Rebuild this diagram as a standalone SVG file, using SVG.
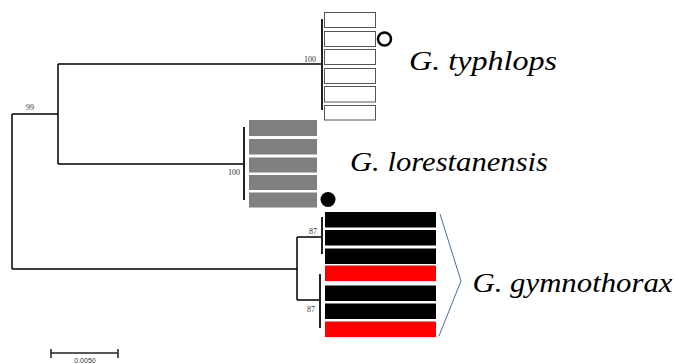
<svg xmlns="http://www.w3.org/2000/svg" width="675" height="364" viewBox="0 0 675 364">
<style>
.br{stroke:#000;stroke-width:1.5;fill:none}
.bar{stroke:#222;stroke-width:2;fill:none}
.wb{fill:#fff;stroke:#555;stroke-width:1}
.gb{fill:#808080}
.kb{fill:#000}
.rb{fill:#ff0000}
.bs{font-family:"Liberation Serif",serif;font-size:8px;fill:#333}
.sp{font-family:"Liberation Serif",serif;font-style:italic;font-size:28px;fill:#000}
</style>
<rect width="675" height="364" fill="#fff"/>
<g id="connectors">
<path class="br" d="M12,114V269M12,114H58M58,64V164M58,64H322M58,164H244M12,269H297M297,237V300M297,237H322M297,300H320"/>
<path class="bar" d="M322,19V110M244,127V200M322,217V254M320,274V328"/>
<polyline points="440,214 461,281 439,336" fill="none" stroke="#4d6d9a" stroke-width="1"/>
</g>
<g id="bootstrap">
<text class="bs" x="30" y="110" text-anchor="middle">99</text>
<text class="bs" x="316" y="62" text-anchor="end">100</text>
<text class="bs" x="240" y="175" text-anchor="end">100</text>
<text class="bs" x="317" y="234" text-anchor="end">87</text>
<text class="bs" x="315" y="312" text-anchor="end">87</text>
</g>
<g id="typhlops">
<rect class="wb" x="324.5" y="12.5" width="51" height="15"/>
<rect class="wb" x="324.5" y="31.5" width="51" height="15"/>
<rect class="wb" x="324.5" y="49.5" width="51" height="15"/>
<rect class="wb" x="324.5" y="68.5" width="51" height="15"/>
<rect class="wb" x="324.5" y="86.5" width="51" height="15.5"/>
<rect class="wb" x="324.5" y="105.5" width="51" height="14.5"/>
<circle cx="384.5" cy="39" r="6.5" fill="none" stroke="#000" stroke-width="2.5"/>
<text class="sp" x="409" y="70" textLength="148" lengthAdjust="spacingAndGlyphs">G. typhlops</text>
</g>
<g id="lorestanensis">
<rect class="gb" x="249" y="120" width="68" height="16"/>
<rect class="gb" x="249" y="139" width="68" height="15.5"/>
<rect class="gb" x="249" y="157.5" width="68" height="15"/>
<rect class="gb" x="249" y="175" width="68" height="15"/>
<rect class="gb" x="249" y="192.5" width="68" height="15"/>
<circle cx="328" cy="199.5" r="7.5" fill="#000"/>
<text class="sp" x="350" y="171" textLength="198" lengthAdjust="spacingAndGlyphs">G. lorestanensis</text>
</g>
<g id="gymnothorax">
<rect class="kb" x="325" y="212" width="111" height="15.5"/>
<rect class="kb" x="325" y="230" width="111" height="15.5"/>
<rect class="kb" x="325" y="248.5" width="111" height="15.5"/>
<rect class="rb" x="325" y="265.5" width="111" height="15.5"/>
<rect class="kb" x="325" y="285.5" width="111" height="15.5"/>
<rect class="kb" x="325" y="303.5" width="111" height="15.5"/>
<rect class="rb" x="325" y="321.5" width="111" height="15.5"/>
<text class="sp" x="472.5" y="292" textLength="200" lengthAdjust="spacingAndGlyphs">G. gymnothorax</text>
</g>
<g id="scale">
<path d="M51,353H118M51,349V358M118,349V358" stroke="#222" stroke-width="1.5" fill="none"/>
<text x="85" y="363" text-anchor="middle" style="font-family:'Liberation Sans',sans-serif;font-size:7px;fill:#333">0.0050</text>
</g>
</svg>
